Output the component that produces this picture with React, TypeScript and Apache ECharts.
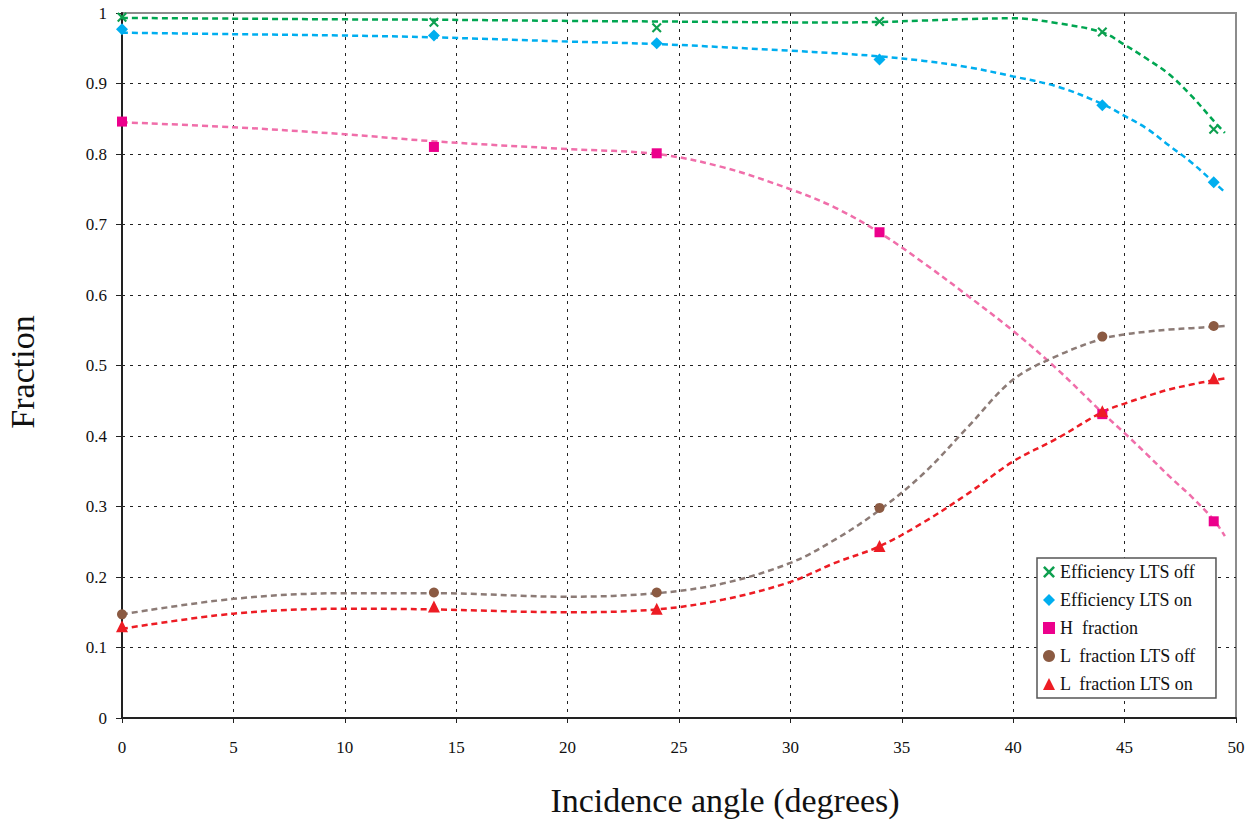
import React, { useEffect, useRef } from "react";
import * as echarts from "echarts";

// Measured points (incidence angle in degrees)
const angles = [0, 14, 24, 34, 44, 49];
const effOff = [0.994, 0.987, 0.979, 0.988, 0.973, 0.835];
const effOn = [0.977, 0.968, 0.957, 0.934, 0.869, 0.76];
const hFraction = [0.846, 0.81, 0.801, 0.689, 0.431, 0.279];
const lOff = [0.147, 0.178, 0.178, 0.298, 0.541, 0.556];
const lOn = [0.13, 0.158, 0.155, 0.244, 0.435, 0.482];

// Trend curves sampled along the angle range
const trendAngles = [0, 5, 10, 14, 20, 24, 27, 30, 32, 34, 36, 38, 40, 42, 44, 45, 46, 47, 48, 49, 49.5];
const effOffTrend = [0.993, 0.992, 0.991, 0.9905, 0.9888, 0.988, 0.9873, 0.9867, 0.9866, 0.9873, 0.9893, 0.9915, 0.9925, 0.9855, 0.9725, 0.955, 0.935, 0.913, 0.8825, 0.847, 0.83];
const effOnTrend = [0.972, 0.97, 0.968, 0.9655, 0.9595, 0.956, 0.9515, 0.9465, 0.943, 0.9385, 0.932, 0.923, 0.91, 0.8955, 0.871, 0.854, 0.836, 0.812, 0.788, 0.76, 0.746];
const hTrend = [0.845, 0.838, 0.828, 0.818, 0.807, 0.8, 0.781, 0.75, 0.724, 0.6885, 0.645, 0.598, 0.549, 0.494, 0.433, 0.404, 0.374, 0.343, 0.314, 0.281, 0.258];
const lOffTrend = [0.147, 0.169, 0.177, 0.177, 0.172, 0.177, 0.191, 0.22, 0.253, 0.295, 0.3475, 0.414, 0.48, 0.514, 0.538, 0.544, 0.548, 0.551, 0.553, 0.555, 0.556];
const lOnTrend = [0.1265, 0.148, 0.155, 0.154, 0.15, 0.154, 0.168, 0.193, 0.22, 0.2435, 0.278, 0.319, 0.364, 0.397, 0.434, 0.446, 0.4565, 0.466, 0.473, 0.479, 0.4815];

const seriesNames = [
  "Efficiency LTS off",
  "Efficiency LTS on",
  "H  fraction",
  "L  fraction LTS off",
  "L  fraction LTS on",
];

const FONT = "Liberation Serif";
const CROSS = "path://M1.5,0 L5,3.5 L8.5,0 L10,1.5 L6.5,5 L10,8.5 L8.5,10 L5,6.5 L1.5,10 L0,8.5 L3.5,5 L0,1.5 Z";

const pair = (xs: number[], ys: number[]) => xs.map((x, i) => [x, ys[i]]);

function scatter(name: string, ys: number[], symbol: string, size: number, color: string) {
  return {
    name,
    type: "scatter",
    data: pair(angles, ys),
    symbol,
    symbolSize: size,
    itemStyle: { color, opacity: 1 },
    z: 4,
    silent: true,
  };
}

function trend(name: string, ys: number[], color: string) {
  return {
    name,
    type: "line",
    data: pair(trendAngles, ys),
    showSymbol: false,
    symbol: "none",
    smooth: 0.35,
    lineStyle: { color, width: 2.5, type: [6, 4] },
    z: 3,
    silent: true,
  };
}

export default function App() {
  const ref = useRef<HTMLDivElement>(null);

  useEffect(() => {
    if (!ref.current) return;
    const chart = echarts.init(ref.current, null, { renderer: "svg" });
    const gridLine = { show: true, showMinLine: false, showMaxLine: false, lineStyle: { color: "#222", width: 1, type: [3, 5] } };
    const tickText = { fontFamily: FONT, fontSize: 17, color: "#111" };
    chart.setOption({
      animation: false,
      backgroundColor: "#fff",
      textStyle: { fontFamily: FONT },
      grid: {
        left: 122,
        right: 19,
        top: 13,
        bottom: 103,
        show: true,
        borderColor: "#8c8c8c",
        borderWidth: 2,
        backgroundColor: "transparent",
      },
      xAxis: {
        type: "value",
        min: 0,
        max: 50,
        interval: 5,
        axisLine: { show: true, onZero: false, lineStyle: { color: "#222", width: 2 } },
        axisTick: { show: true, length: 5, lineStyle: { color: "#222", width: 1 } },
        axisLabel: { margin: 21, ...tickText },
        splitLine: gridLine,
      },
      yAxis: {
        type: "value",
        min: 0,
        max: 1,
        interval: 0.1,
        axisLine: { show: true, onZero: false, lineStyle: { color: "#222", width: 2 } },
        axisTick: { show: true, length: 6, lineStyle: { color: "#222", width: 1 } },
        axisLabel: {
          margin: 15,
          ...tickText,
          formatter: (v: number) => String(Math.round(v * 10) / 10),
        },
        splitLine: gridLine,
      },
      legend: {
        orient: "vertical",
        left: 1037,
        top: 558,
        itemWidth: 12,
        itemHeight: 12,
        itemGap: 10,
        padding: [5, 20, 5, 6],
        backgroundColor: "#fff",
        borderColor: "#555",
        borderWidth: 1.5,
        borderRadius: 0,
        textStyle: { fontFamily: FONT, fontSize: 18, color: "#111" },
        data: seriesNames,
        selectedMode: false,
      },
      graphic: [
        {
          type: "text",
          x: 725,
          y: 800,
          style: {
            text: "Incidence angle (degrees)",
            font: `34px ${FONT}`,
            fill: "#111",
            textAlign: "center",
            textVerticalAlign: "middle",
            align: "center",
            verticalAlign: "middle",
          },
        },
        {
          type: "text",
          x: 22,
          y: 372,
          rotation: Math.PI / 2,
          style: {
            text: "Fraction",
            font: `34px ${FONT}`,
            fill: "#111",
            textAlign: "center",
            textVerticalAlign: "middle",
            align: "center",
            verticalAlign: "middle",
          },
        },
      ],
      series: [
        trend("effOffTrend", effOffTrend, "#00A651"),
        trend("effOnTrend", effOnTrend, "#00AEEF"),
        trend("hTrend", hTrend, "#F06EAA"),
        trend("lOffTrend", lOffTrend, "#8C7B76"),
        trend("lOnTrend", lOnTrend, "#ED1C24"),
        scatter(seriesNames[0], effOff, CROSS, 10, "#0E9F4F"),
        scatter(seriesNames[1], effOn, "diamond", 12, "#00AEEF"),
        scatter(seriesNames[2], hFraction, "rect", 10, "#EC008C"),
        scatter(seriesNames[3], lOff, "circle", 10, "#8B5A42"),
        scatter(seriesNames[4], lOn, "triangle", 12, "#ED1C24"),
      ],
    });
    return () => chart.dispose();
  }, []);

  return (
    <div
      ref={ref}
      style={{ position: "absolute", left: 0, top: 0, width: 1255, height: 821 }}
    />
  );
}
